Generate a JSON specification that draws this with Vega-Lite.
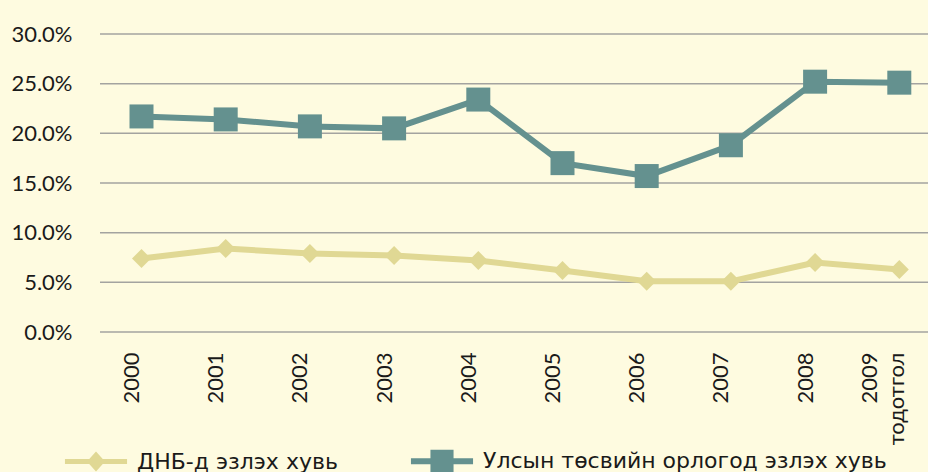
{
  "$schema": "https://vega.github.io/schema/vega-lite/v6.json",
  "width": 828,
  "height": 298,
  "autosize": {"type": "none"},
  "padding": {"left": 100, "top": 34, "right": 0, "bottom": 140},
  "background": "#FEFBE0",
  "config": {
    "view": {"stroke": null},
    "font": "Lato",
    "axis": {"labelFont": "Lato", "labelFontSize": 22, "labelColor": "#1a1a1a", "domain": false, "ticks": false}
  },
  "datasets": {
    "series": [
      {"year": "2000", "series": "ДНБ-д эзлэх хувь", "value": 0.074},
      {"year": "2001", "series": "ДНБ-д эзлэх хувь", "value": 0.084},
      {"year": "2002", "series": "ДНБ-д эзлэх хувь", "value": 0.079},
      {"year": "2003", "series": "ДНБ-д эзлэх хувь", "value": 0.077},
      {"year": "2004", "series": "ДНБ-д эзлэх хувь", "value": 0.072},
      {"year": "2005", "series": "ДНБ-д эзлэх хувь", "value": 0.062},
      {"year": "2006", "series": "ДНБ-д эзлэх хувь", "value": 0.051},
      {"year": "2007", "series": "ДНБ-д эзлэх хувь", "value": 0.051},
      {"year": "2008", "series": "ДНБ-д эзлэх хувь", "value": 0.070},
      {"year": "2009|тодотгол", "series": "ДНБ-д эзлэх хувь", "value": 0.063},
      {"year": "2000", "series": "Улсын төсвийн орлогод эзлэх хувь", "value": 0.217},
      {"year": "2001", "series": "Улсын төсвийн орлогод эзлэх хувь", "value": 0.214},
      {"year": "2002", "series": "Улсын төсвийн орлогод эзлэх хувь", "value": 0.207},
      {"year": "2003", "series": "Улсын төсвийн орлогод эзлэх хувь", "value": 0.205},
      {"year": "2004", "series": "Улсын төсвийн орлогод эзлэх хувь", "value": 0.234},
      {"year": "2005", "series": "Улсын төсвийн орлогод эзлэх хувь", "value": 0.170},
      {"year": "2006", "series": "Улсын төсвийн орлогод эзлэх хувь", "value": 0.157},
      {"year": "2007", "series": "Улсын төсвийн орлогод эзлэх хувь", "value": 0.188},
      {"year": "2008", "series": "Улсын төсвийн орлогод эзлэх хувь", "value": 0.252},
      {"year": "2009|тодотгол", "series": "Улсын төсвийн орлогод эзлэх хувь", "value": 0.251}
    ],
    "grid": [
      {"tick": 0}, {"tick": 0.05}, {"tick": 0.1}, {"tick": 0.15}, {"tick": 0.2}, {"tick": 0.25}, {"tick": 0.3}
    ]
  },
  "layer": [
    {
      "data": {"name": "grid"},
      "mark": {"type": "rule", "color": "#A3A3A0", "strokeWidth": 1.5},
      "encoding": {
        "y": {
          "field": "tick", "type": "quantitative",
          "scale": {"domain": [0, 0.3], "nice": false},
          "axis": {
            "title": null, "format": ".1%", "values": [0, 0.05, 0.1, 0.15, 0.2, 0.25, 0.3],
            "labelPadding": 28, "grid": false
          }
        }
      }
    },
    {
      "data": {"name": "series"},
      "encoding": {
        "x": {
          "field": "year", "type": "nominal", "sort": null,
          "scale": {"type": "point", "range": [41.5, 799.3], "padding": 0},
          "axis": {
            "title": null, "labelAngle": -90, "labelAlign": "right", "labelBaseline": "middle",
            "labelPadding": 20, "grid": false,
            "labelOffset": {"condition": {"test": "datum.value == '2009|тодотгол'", "value": -30}, "value": -10},
            "labelExpr": "split(datum.label, '|')", "labelLineHeight": 27
          }
        },
        "y": {"field": "value", "type": "quantitative"},
        "color": {
          "field": "series", "type": "nominal",
          "scale": {"domain": ["ДНБ-д эзлэх хувь", "Улсын төсвийн орлогод эзлэх хувь"], "range": ["#E0D894", "#64918F"]},
          "legend": {
            "title": null, "orient": "none", "direction": "horizontal",
            "legendX": -19, "legendY": 412, "padding": 0,
            "symbolSize": 900, "symbolStrokeWidth": 0,
            "labelFont": "DejaVu Sans", "labelFontSize": 22, "labelColor": "#1a1a1a",
            "labelOffset": 26, "columnPadding": 72, "labelLimit": 500,
            "encode": {
              "symbols": {
                "update": {
                  "shape": {"signal": "datum.value == 'ДНБ-д эзлэх хувь' ? 'M-2.07,-0.17H2.07V0.17H-2.07Z M0,-0.67L0.6,0L0,0.67L-0.6,0Z' : 'M-2.07,-0.2H2.07V0.2H-2.07Z M-0.77,-0.77H0.77V0.77H-0.77Z'"},
                  "fill": {"signal": "datum.value == 'ДНБ-д эзлэх хувь' ? '#E0D894' : '#64918F'"},
                  "stroke": {"value": "transparent"},
                  "size": {"value": 900},
                  "opacity": {"value": 1}
                }
              }
            }
          }
        }
      },
      "layer": [
        {
          "mark": {"type": "line", "strokeWidth": 6}
        },
        {
          "transform": [{"filter": "datum.series == 'ДНБ-д эзлэх хувь'"}],
          "mark": {"type": "point", "filled": true, "opacity": 1, "shape": "diamond", "size": 360}
        },
        {
          "transform": [{"filter": "datum.series != 'ДНБ-д эзлэх хувь'"}],
          "mark": {"type": "point", "filled": true, "opacity": 1, "shape": "square", "size": 576}
        }
      ]
    }
  ]
}
